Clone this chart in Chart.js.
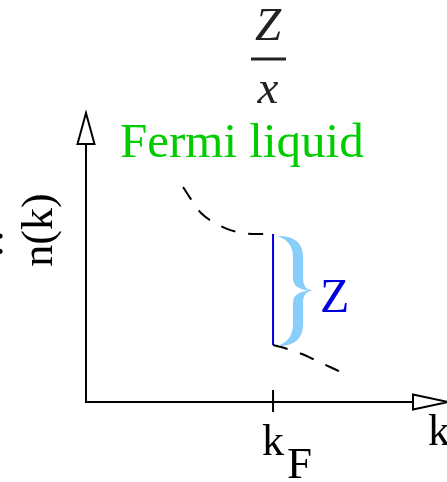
<!DOCTYPE html>
<html>
<head>
<meta charset="utf-8">
<script src="https://cdn.jsdelivr.net/npm/chart.js@4.4.0/dist/chart.umd.min.js"></script>
<style>
  html, body { margin: 0; padding: 0; background: #fff; }
  canvas { display: block; }
</style>
</head>
<body>
<canvas id="nk" width="447" height="482"></canvas>
<script>
// momentum distribution n(k) of a Fermi liquid, kF = 1
const kF = 1
const kMax = 1.93
const nMax = 1

// below kF (dashed, bending down to the jump)
const upperK = [0.519, 0.567, 0.615, 0.679, 0.754, 0.834, 0.914, 1.0]
const upperN = [0.744, 0.696, 0.654, 0.623, 0.599, 0.585, 0.581, 0.581]

// the jump at kF, height Z
const jumpK = [1.0, 1.0]
const jumpN = [0.581, 0.197]

// above kF (dashed tail)
const lowerK = [1.0, 1.080, 1.155, 1.235, 1.305, 1.385]
const lowerN = [0.197, 0.183, 0.166, 0.142, 0.121, 0.097]

const serif = '"Liberation Serif", "DejaVu Serif", serif'

function pts(xs, ys) {
  return xs.map((x, i) => ({x: x, y: ys[i]}))
}

// axes with open arrow heads, tick at kF, brace and all the labels
const sketchPlugin = {
  id: 'sketch',
  afterDatasetsDraw(chart) {
    const ctx = chart.ctx
    const xs = chart.scales.x
    const ys = chart.scales.y
    const x0 = xs.getPixelForValue(0)
    const y0 = ys.getPixelForValue(0)
    const xEnd = xs.getPixelForValue(kMax)
    const yEnd = ys.getPixelForValue(nMax)
    const xF = xs.getPixelForValue(kF)

    ctx.save()
    ctx.strokeStyle = '#000'
    ctx.lineWidth = 2
    ctx.lineJoin = 'miter'

    // axis lines
    ctx.beginPath()
    ctx.moveTo(x0, yEnd + 31)
    ctx.lineTo(x0, y0)
    ctx.lineTo(xEnd - 34, y0)
    ctx.stroke()

    // arrow heads
    ctx.fillStyle = '#fff'
    ctx.beginPath()
    ctx.moveTo(x0, yEnd)
    ctx.lineTo(x0 - 8.5, yEnd + 31)
    ctx.lineTo(x0 + 8.5, yEnd + 31)
    ctx.closePath()
    ctx.fill()
    ctx.stroke()

    ctx.beginPath()
    ctx.moveTo(xEnd + 1, y0)
    ctx.lineTo(xEnd - 34, y0 - 7.5)
    ctx.lineTo(xEnd - 34, y0 + 7.5)
    ctx.closePath()
    ctx.fill()
    ctx.stroke()

    // tick at kF
    ctx.beginPath()
    ctx.moveTo(xF, y0 - 12)
    ctx.lineTo(xF, y0 + 10)
    ctx.stroke()

    // brace next to the jump
    const bt = ys.getPixelForValue(jumpN[0]) + 2
    const bb = ys.getPixelForValue(jumpN[1])
    const bm = (bt + bb) / 2
    const bx = xF + 5
    ctx.fillStyle = '#87cefa'
    ctx.beginPath()
    ctx.moveTo(bx, bt)
    ctx.quadraticCurveTo(bx + 25, bt, bx + 25, bt + 21)
    ctx.lineTo(bx + 25, bm - 12)
    ctx.quadraticCurveTo(bx + 25, bm - 1, bx + 34, bm)
    ctx.quadraticCurveTo(bx + 25, bm + 1, bx + 25, bm + 12)
    ctx.lineTo(bx + 25, bb - 21)
    ctx.quadraticCurveTo(bx + 25, bb + 1, bx, bb + 1)
    ctx.quadraticCurveTo(bx + 15, bb - 5, bx + 15, bb - 21)
    ctx.lineTo(bx + 15, bm + 12)
    ctx.quadraticCurveTo(bx + 15, bm + 2, bx + 30, bm)
    ctx.quadraticCurveTo(bx + 15, bm - 2, bx + 15, bm - 12)
    ctx.lineTo(bx + 15, bt + 21)
    ctx.quadraticCurveTo(bx + 15, bt + 6, bx, bt)
    ctx.closePath()
    ctx.fill()

    // labels
    ctx.textBaseline = 'alphabetic'
    ctx.textAlign = 'left'
    ctx.fillStyle = '#00cc00'
    ctx.font = '49px ' + serif
    ctx.fillText('Fermi liquid', 120, 157)

    ctx.fillStyle = '#0000e0'
    ctx.font = '48px ' + serif
    ctx.fillText('Z', 320, 312)

    ctx.fillStyle = '#000'
    ctx.font = '44px ' + serif
    ctx.fillText('k', 428, 445)
    ctx.fillText('k', 262, 455)
    ctx.font = '45px ' + serif
    ctx.fillText('F', 287, 478)

    ctx.textAlign = 'center'
    ctx.fillText(':', 0, 254)

    ctx.save()
    ctx.translate(52, 230)
    ctx.rotate(-Math.PI / 2)
    ctx.font = '44px ' + serif
    ctx.fillText('n(k)', 0, 0)
    ctx.restore()

    // Z over x
    ctx.fillStyle = '#222'
    ctx.font = 'italic 47px ' + serif
    ctx.fillText('Z', 268, 40)
    ctx.fillText('x', 268, 103)
    ctx.fillRect(251, 57.5, 35, 3)

    ctx.restore()
  }
}

new Chart(document.getElementById('nk'), {
  type: 'line',
  data: {
    datasets: [
      {
        data: pts(upperK, upperN),
        borderColor: '#000',
        borderWidth: 2,
        borderDash: [15, 13],
        cubicInterpolationMode: 'monotone',
        pointRadius: 0
      },
      {
        data: pts(jumpK, jumpN),
        borderColor: '#0000e0',
        borderWidth: 2,
        pointRadius: 0
      },
      {
        data: pts(lowerK, lowerN),
        borderColor: '#000',
        borderWidth: 2,
        borderDash: [15, 13],
        tension: 0.3,
        pointRadius: 0
      }
    ]
  },
  options: {
    responsive: false,
    animation: false,
    devicePixelRatio: 1,
    layout: { padding: { left: 86, right: 0, top: 113, bottom: 80 } },
    plugins: { legend: { display: false }, tooltip: { enabled: false } },
    scales: {
      x: { type: 'linear', min: 0, max: kMax, display: false },
      y: { type: 'linear', min: 0, max: nMax, display: false }
    },
    elements: { line: { fill: false } },
    clip: false
  },
  plugins: [sketchPlugin]
})
</script>
</body>
</html>
